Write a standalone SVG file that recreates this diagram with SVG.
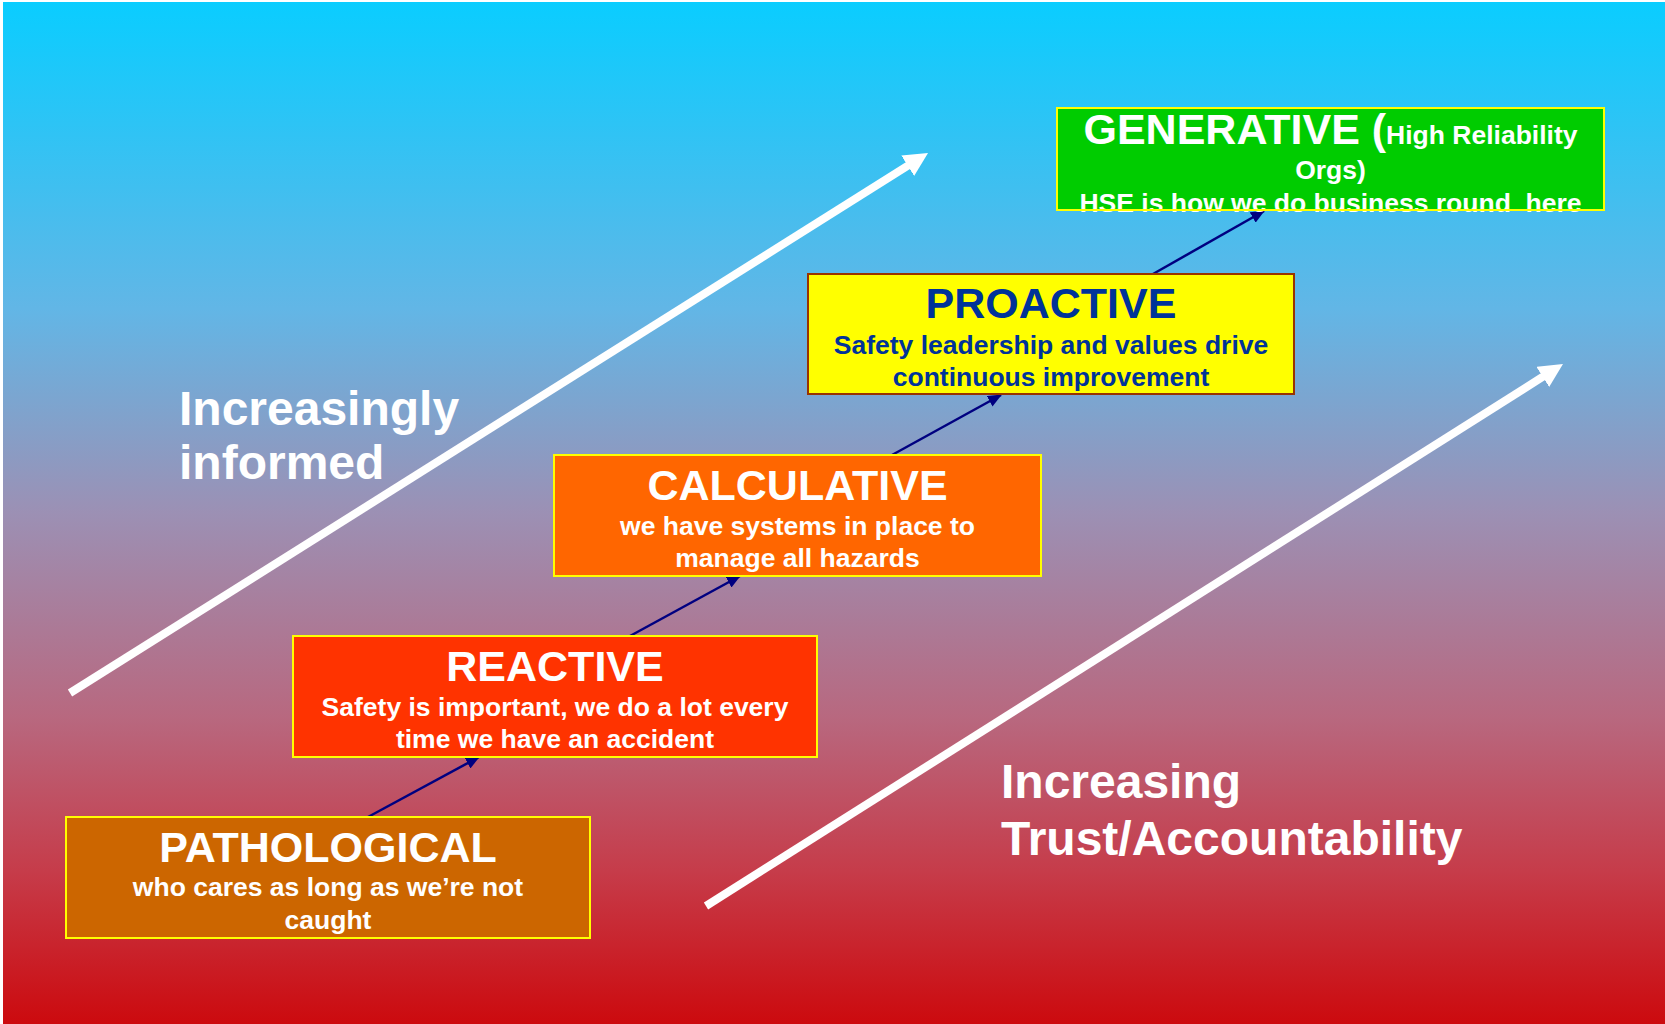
<svg xmlns="http://www.w3.org/2000/svg" width="1665" height="1024" viewBox="0 0 1665 1024">
  <defs>
    <linearGradient id="bg" x1="0" y1="0" x2="0" y2="1">
      <stop offset="0" stop-color="#0ACDFF"/>
      <stop offset="0.3" stop-color="#62B6E6"/>
      <stop offset="0.5" stop-color="#9C90B4"/>
      <stop offset="0.7" stop-color="#B8687F"/>
      <stop offset="0.85" stop-color="#C63C4A"/>
      <stop offset="1" stop-color="#CC0A0E"/>
    </linearGradient>
    <marker id="navyHead" markerUnits="userSpaceOnUse" markerWidth="14" markerHeight="12" refX="13" refY="6" orient="auto">
      <path d="M0,0 L14,6 L0,12 z" fill="#000080"/>
    </marker>
    <marker id="whiteHead" markerUnits="userSpaceOnUse" markerWidth="24" markerHeight="24" refX="4" refY="12" orient="auto">
      <path d="M0,0 L24,12 L0,24 z" fill="#FFFFFF"/>
    </marker>
  </defs>
  <style>
    text { font-family: "Liberation Sans", Arial, sans-serif; font-weight: bold; text-anchor: middle; }
    .title { font-size: 43px; }
    .body { font-size: 26.5px; }
    .white { fill: #FFFFFF; }
    .blue { fill: #003399; }
    .box { stroke: #FFFF00; stroke-width: 2; }
    .label { font-size: 48px; fill: #FFFFFF; text-anchor: start; }
    .step { stroke: #000080; stroke-width: 2.5; fill: none; marker-end: url(#navyHead); }
    .trend { stroke: #FFFFFF; stroke-width: 8; fill: none; marker-end: url(#whiteHead); }
  </style>

  <!-- page background -->
  <rect x="0" y="0" width="1665" height="1024" fill="#FFFFFF"/>
  <rect x="3" y="2" width="1662" height="1022" fill="url(#bg)"/>

  <!-- side captions -->
  <g id="label-informed">
    <text class="label" x="179" y="425">Increasingly</text>
    <text class="label" x="179" y="479">informed</text>
  </g>
  <g id="label-trust">
    <text class="label" x="1001" y="798">Increasing</text>
    <text class="label" x="1001" y="855">Trust/Accountability</text>
  </g>

  <!-- connectors -->
  <g id="connectors">
    <line class="trend" x1="70" y1="693" x2="911.1" y2="163.6"/>
    <line class="trend" x1="706" y1="906" x2="1546.1" y2="374.7"/>
    <line class="step" x1="368" y1="817" x2="479" y2="757"/>
    <line class="step" x1="630" y1="636" x2="740" y2="576"/>
    <line class="step" x1="892" y1="455" x2="1001" y2="395"/>
    <line class="step" x1="1153" y1="274" x2="1264" y2="211"/>
  </g>

  <g id="node-pathological">
    <rect class="box" x="66" y="817" width="524" height="121" fill="#CC6600"/>
    <text class="title white" x="328" y="862">PATHOLOGICAL</text>
    <text class="body white" x="328" y="896">who cares as long as we’re not</text>
    <text class="body white" x="328" y="929">caught</text>
  </g>

  <g id="node-reactive">
    <rect class="box" x="293" y="636" width="524" height="121" fill="#FF3300"/>
    <text class="title white" x="555" y="681">REACTIVE</text>
    <text class="body white" x="555" y="716">Safety is important, we do a lot every</text>
    <text class="body white" x="555" y="748">time we have an accident</text>
  </g>

  <g id="node-calculative">
    <rect class="box" x="554" y="455" width="487" height="121" fill="#FF6600"/>
    <text class="title white" x="797.5" y="500">CALCULATIVE</text>
    <text class="body white" x="797.5" y="535">we have systems in place to</text>
    <text class="body white" x="797.5" y="567">manage all hazards</text>
  </g>

  <g id="node-proactive">
    <rect x="808" y="274" width="486" height="120" fill="#FFFF00" stroke="#993300" stroke-width="2"/>
    <text class="title blue" x="1051" y="318">PROACTIVE</text>
    <text class="body blue" x="1051" y="354">Safety leadership and values drive</text>
    <text class="body blue" x="1051" y="386">continuous improvement</text>
  </g>

  <g id="node-generative">
    <rect x="1057" y="108" width="547" height="102" fill="#00CC00"/>
    <text class="white" x="1330.5" y="144"><tspan class="title">GENERATIVE (</tspan><tspan class="body">High Reliability</tspan></text>
    <text class="body white" x="1330.5" y="179">Orgs)</text>
    <text class="body white" x="1330.5" y="212">HSE is how we do business round&#160; here</text>
    <rect x="1057" y="108" width="547" height="102" fill="none" stroke="#FFFF00" stroke-width="2"/>
  </g>
</svg>
